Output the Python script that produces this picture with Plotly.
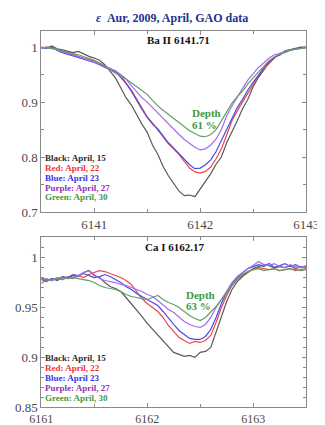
import numpy as np
import plotly.graph_objects as go

# ---------------- data ----------------
wl_ba = np.round(np.linspace(6140.5, 6143.0, 51), 2)
wl_ca = np.round(np.linspace(6161.0, 6163.5, 51), 2)

ba_black = [1.000, 0.998, 1.002, 0.997, 0.995, 0.993, 0.990, 0.992, 0.987, 0.983,
            0.980, 0.976, 0.968, 0.956, 0.944, 0.926, 0.908, 0.895, 0.876, 0.860,
            0.845, 0.822, 0.805, 0.783, 0.766, 0.752, 0.738, 0.730, 0.731, 0.728,
            0.742, 0.755, 0.770, 0.787, 0.800, 0.826, 0.845, 0.866, 0.888, 0.905,
            0.928, 0.945, 0.958, 0.972, 0.982, 0.985, 0.993, 0.995, 0.998, 1.000, 1.000]
ba_red = [0.998, 1.000, 0.999, 0.995, 0.992, 0.990, 0.986, 0.983, 0.980, 0.978,
          0.975, 0.971, 0.966, 0.962, 0.956, 0.948, 0.936, 0.922, 0.906, 0.889,
          0.873, 0.862, 0.850, 0.836, 0.824, 0.815, 0.805, 0.792, 0.780, 0.773,
          0.771, 0.774, 0.782, 0.797, 0.815, 0.840, 0.866, 0.884, 0.900, 0.918,
          0.934, 0.948, 0.960, 0.970, 0.980, 0.987, 0.992, 0.995, 0.997, 0.999, 1.000]
ba_blue = [0.999, 0.998, 1.000, 0.994, 0.990, 0.987, 0.984, 0.981, 0.978, 0.976,
           0.972, 0.968, 0.963, 0.960, 0.955, 0.945, 0.934, 0.920, 0.903, 0.887,
           0.872, 0.860, 0.851, 0.838, 0.826, 0.816, 0.806, 0.795, 0.786, 0.779,
           0.780, 0.786, 0.795, 0.810, 0.830, 0.852, 0.872, 0.890, 0.905, 0.922,
           0.936, 0.950, 0.962, 0.973, 0.981, 0.988, 0.992, 0.994, 0.997, 0.999, 0.999]
ba_purple = [0.998, 1.000, 0.998, 0.995, 0.991, 0.988, 0.985, 0.982, 0.979, 0.976,
             0.973, 0.969, 0.965, 0.961, 0.957, 0.950, 0.942, 0.930, 0.918, 0.908,
             0.900, 0.890, 0.880, 0.870, 0.860, 0.850, 0.841, 0.832, 0.825, 0.818,
             0.813, 0.815, 0.822, 0.833, 0.850, 0.875, 0.893, 0.910, 0.925, 0.940,
             0.952, 0.963, 0.971, 0.980, 0.986, 0.988, 0.992, 0.995, 0.996, 0.998, 0.999]
ba_green = [0.999, 0.999, 0.997, 0.996, 0.993, 0.990, 0.988, 0.986, 0.983, 0.979,
            0.976, 0.971, 0.964, 0.958, 0.953, 0.948, 0.942, 0.935, 0.928, 0.922,
            0.914, 0.903, 0.893, 0.885, 0.877, 0.870, 0.863, 0.855, 0.848, 0.843,
            0.838, 0.837, 0.841, 0.850, 0.866, 0.884, 0.898, 0.910, 0.920, 0.933,
            0.945, 0.955, 0.965, 0.975, 0.982, 0.987, 0.990, 0.994, 0.996, 0.998, 0.999]

ca_black = [0.978, 0.976, 0.979, 0.977, 0.980, 0.979, 0.982, 0.981, 0.985, 0.987,
            0.982, 0.980, 0.975, 0.971, 0.969, 0.966, 0.960, 0.954, 0.948, 0.941,
            0.934, 0.928, 0.922, 0.916, 0.910, 0.905, 0.903, 0.901, 0.902, 0.900,
            0.905, 0.906, 0.910, 0.925, 0.942, 0.956, 0.968, 0.976, 0.981, 0.985,
            0.989, 0.991, 0.993, 0.992, 0.990, 0.991, 0.990, 0.992, 0.989, 0.991, 0.990]
ca_red = [0.974, 0.978, 0.977, 0.980, 0.978, 0.981, 0.980, 0.982, 0.980, 0.983,
          0.985, 0.987, 0.986, 0.984, 0.982, 0.980, 0.977, 0.973, 0.966, 0.959,
          0.954, 0.950, 0.946, 0.940, 0.932, 0.926, 0.920, 0.917, 0.914, 0.916,
          0.915, 0.917, 0.922, 0.935, 0.950, 0.962, 0.972, 0.978, 0.982, 0.986,
          0.988, 0.990, 0.989, 0.988, 0.989, 0.987, 0.988, 0.989, 0.987, 0.988, 0.989]
ca_blue = [0.980, 0.977, 0.979, 0.978, 0.981, 0.980, 0.983, 0.982, 0.984, 0.982,
           0.980, 0.981, 0.983, 0.981, 0.978, 0.975, 0.971, 0.968, 0.964, 0.961,
           0.958, 0.955, 0.952, 0.946, 0.939, 0.933, 0.927, 0.923, 0.919, 0.918,
           0.918, 0.921, 0.928, 0.940, 0.954, 0.965, 0.974, 0.980, 0.985, 0.989,
           0.991, 0.993, 0.991, 0.994, 0.990, 0.992, 0.994, 0.991, 0.993, 0.990, 0.991]
ca_purple = [0.978, 0.979, 0.977, 0.979, 0.978, 0.980, 0.979, 0.982, 0.985, 0.987,
             0.983, 0.979, 0.977, 0.976, 0.975, 0.973, 0.972, 0.970, 0.968, 0.966,
             0.963, 0.961, 0.957, 0.952, 0.948, 0.945, 0.940, 0.936, 0.933, 0.931,
             0.930, 0.933, 0.940, 0.950, 0.958, 0.967, 0.975, 0.981, 0.985, 0.989,
             0.992, 0.996, 0.993, 0.992, 0.994, 0.991, 0.990, 0.993, 0.991, 0.990, 0.992]
ca_green = [0.979, 0.977, 0.978, 0.979, 0.980, 0.979, 0.980, 0.979, 0.978, 0.977,
            0.975, 0.972, 0.970, 0.969, 0.968, 0.966, 0.963, 0.961, 0.960, 0.959,
            0.958, 0.960, 0.962, 0.958, 0.955, 0.953, 0.950, 0.946, 0.942, 0.939,
            0.937, 0.940, 0.945, 0.951, 0.958, 0.965, 0.973, 0.979, 0.983, 0.986,
            0.988, 0.989, 0.987, 0.988, 0.989, 0.987, 0.988, 0.989, 0.988, 0.987, 0.988]

ba_ticks = [6141, 6142, 6143]
ca_ticks = [6161, 6162, 6163]
ba_yticks = [0.7, 0.8, 0.9, 1.0]
ba_yticktext = ["0.7", "0.8", "0.9", "1"]
ca_yticks = [0.85, 0.9, 0.95, 1.0]
ca_yticktext = ["0.85", "0.9", "0.95", "1"]

legend_labels = ["Black: April, 15", "Red: April, 22", "Blue: April 23",
                 "Purple: April, 27", "Green: April, 30"]
legend_colors = ["#2b2b2b", "#f03535", "#3535e6", "#8e2fb8", "#3f9a3f"]
line_colors = ["#5a5a5a", "#ee4848", "#4a4ae8", "#a46cf0", "#62a062"]

# ---------------- figure ----------------
W, H = 325, 425
SERIF = "Liberation Serif, Times New Roman, serif"

def px(x):
    return x / W

def py(y):
    return 1 - y / H

fig = go.Figure()

ba_series = [ba_black, ba_red, ba_blue, ba_purple, ba_green]
ca_series = [ca_black, ca_red, ca_blue, ca_purple, ca_green]
for vals, col in zip(ba_series, line_colors):
    fig.add_trace(go.Scatter(x=wl_ba, y=vals, mode="lines", xaxis="x", yaxis="y",
                             line=dict(color=col, width=1.2), showlegend=False))
for vals, col in zip(ca_series, line_colors):
    fig.add_trace(go.Scatter(x=wl_ca, y=vals, mode="lines", xaxis="x2", yaxis="y2",
                             line=dict(color=col, width=1.2), showlegend=False))

def axis_common(size=13):
    return dict(showline=True, linecolor="#8a8a8a", linewidth=1, mirror="allticks",
                ticks="inside", tickcolor="#8a8a8a", ticklen=4, showgrid=False,
                zeroline=False, tickfont=dict(family=SERIF, size=size, color="#4a4a4a"))

x_dom = [px(23), px(310)]
fig.update_layout(
    width=W, height=H, margin=dict(l=0, r=0, t=0, b=0),
    paper_bgcolor="white", plot_bgcolor="white",
    xaxis=dict(domain=x_dom, range=[6140.5, 6143.0], tickvals=ba_ticks,
               ticktext=[str(t) for t in ba_ticks], anchor="y",
               minor=dict(dtick=0.5, tick0=6140.5, ticks="inside", ticklen=3, tickcolor="#8a8a8a"),
               **axis_common(13)),
    yaxis=dict(domain=[py(208), py(23)], range=[0.7, 1.03], tickvals=ba_yticks,
               ticktext=ba_yticktext, anchor="x",
               minor=dict(dtick=0.05, tick0=0.7, ticks="inside", ticklen=3, tickcolor="#8a8a8a"),
               **axis_common(13)),
    xaxis2=dict(domain=x_dom, range=[6161.0, 6163.5], tickvals=ca_ticks,
                ticktext=[str(t) for t in ca_ticks], anchor="y2",
                minor=dict(dtick=0.5, tick0=6161, ticks="inside", ticklen=3, tickcolor="#8a8a8a"),
                **axis_common(12)),
    yaxis2=dict(domain=[py(407), py(233)], range=[0.85, 1.021], tickvals=ca_yticks,
                ticktext=ca_yticktext, anchor="x2",
                minor=dict(dtick=0.01, tick0=0.85, ticks="inside", ticklen=3, tickcolor="#8a8a8a"),
                **axis_common(13)),
)

annots = []
def txt(x, y, text, size, color, xanchor="center"):
    annots.append(dict(x=px(x), y=py(y), xref="paper", yref="paper", text=text,
                       showarrow=False, xanchor=xanchor, yanchor="middle",
                       font=dict(family=SERIF, size=size, color=color)))

txt(165, 10, "<b><i>ε</i>  Aur, 2009, April, GAO data</b>", 12, "#23318f")
txt(172, 33, "<b>Ba II 6141.71</b>", 11, "#111111")
txt(167, 244, "<b>Ca I 6162.17</b>", 11, "#111111")
txt(202, 107, "<b>Depth</b>", 11, "#3f9a3f")
txt(200, 119, "<b>61 %</b>", 11, "#3f9a3f")
txt(196, 292, "<b>Depth</b>", 11, "#3f9a3f")
txt(193, 304, "<b>63 %</b>", 11, "#3f9a3f")

for lbl, col, y in zip(legend_labels, legend_colors, [153, 163, 173, 183, 193]):
    txt(25, y, "<b>" + lbl + "</b>", 9, col, xanchor="left")
for lbl, col, y in zip(legend_labels, legend_colors, [357, 367, 377, 387, 397]):
    txt(25, y, "<b>" + lbl + "</b>", 9, col, xanchor="left")

fig.update_layout(annotations=annots)
fig.write_html("out.html")
